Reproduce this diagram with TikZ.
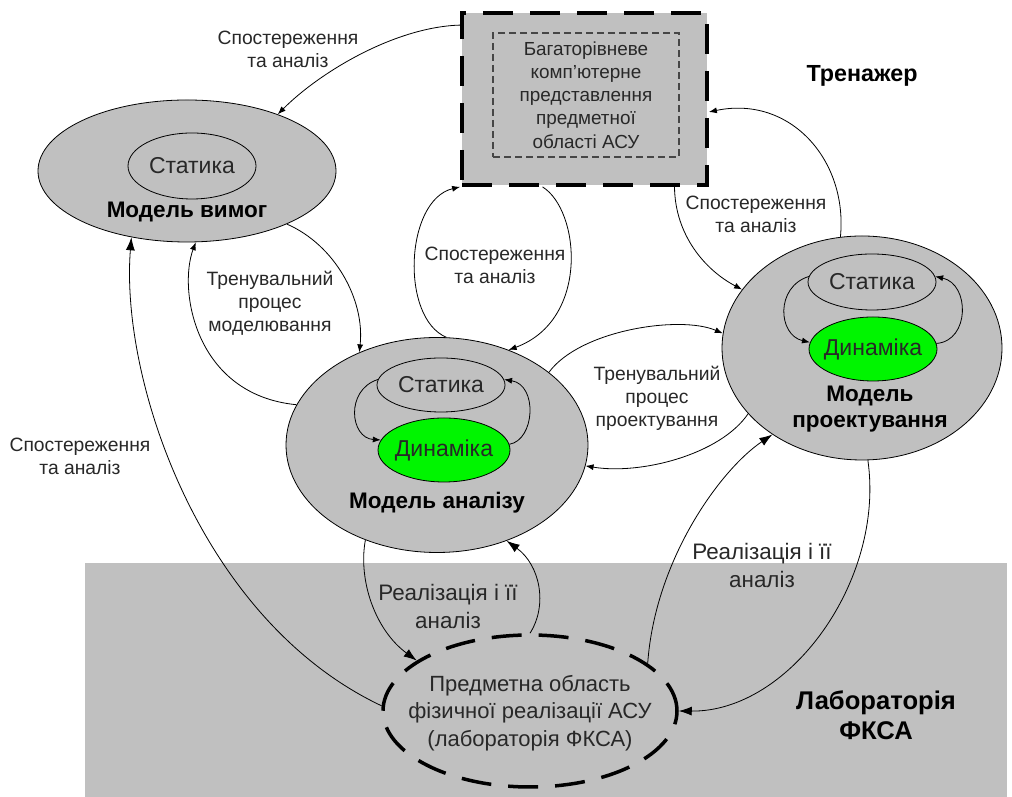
\documentclass[tikz,border=0pt]{standalone}
\usepackage{fontspec}
\setmainfont{Liberation Sans}
\usetikzlibrary{shapes.geometric,arrows.meta}
\definecolor{gr}{RGB}{192,192,192}
\definecolor{txt}{RGB}{40,40,40}
\definecolor{dyn}{RGB}{0,245,0}
\definecolor{dashgr}{RGB}{70,70,70}
\tikzset{
  conn/.style={draw=black, line width=0.8pt, -{Latex[length=8pt,width=6pt]}},
  connbig/.style={draw=black, line width=0.8pt, -{Latex[length=13pt,width=9pt]}},
  model/.style={ellipse, draw=black, fill=gr, line width=0.8pt, inner sep=0pt},
  intext/.style={text=txt, inner sep=0pt, font=\fontsize{23}{26}\selectfont},
  statics/.style={ellipse, draw=black, line width=0.8pt, inner sep=0pt,
    label={[intext]center:Статика}},
  dynamics/.style={ellipse, draw=black, fill=dyn, line width=0.8pt, inner sep=0pt,
    label={[intext]center:Динаміка}},
  lbl/.style={align=center, text=txt, inner sep=0pt, font=\fontsize{19.3}{23}\selectfont},
  rlbl/.style={lbl, font=\fontsize{22.4}{28}\selectfont},
  title/.style={align=center, text=black, inner sep=0pt, font=\bfseries\fontsize{22.5}{26}\selectfont},
  bigtitle/.style={title, font=\bfseries\fontsize{25.6}{30}\selectfont},
}
\begin{document}
\begin{tikzpicture}[x=1pt,y=1pt]
\useasboundingbox (0,0) rectangle (1012,797);
\fill[white] (0,0) rectangle (1012,797);

% laboratory zone
\node[fill=gr, draw=none, minimum width=922pt, minimum height=234pt, anchor=south west, inner sep=0pt] (labzone) at (85,0) {};

% simulator: multi-level computer representation
\node[draw=black, fill=gr, line width=3.8pt, dash pattern=on 30pt off 17pt,
      minimum width=245pt, minimum height=172pt, inner sep=0pt] (tren) at (584.5,698) {};
\node[draw=dashgr, line width=1.1pt, dash pattern=on 7pt off 4pt, align=center, text=txt,
      minimum width=186pt, minimum height=124pt, inner sep=0pt,
      font=\fontsize{18.9}{23.2}\selectfont] (repr) at (586,702)
      {Багаторівневе\\комп'ютерне\\представлення\\предметної\\області АСУ};
\node[title, font=\bfseries\fontsize{23.3}{26}\selectfont] (trenname) at (862,721) {Тренажер};

% requirements model
\node[model, minimum width=298pt, minimum height=142pt] (vymog) at (187,626) {};
\node[statics, minimum width=128pt, minimum height=66pt] (vst) at (192,631) {};
\node[title] (vymogname) at (187,585) {Модель вимог};

% analysis model
\node[model, minimum width=302pt, minimum height=215pt] (analiz) at (437,352) {};
\node[statics, minimum width=128pt, minimum height=54pt] (ast) at (441,412) {};
\node[dynamics, minimum width=132pt, minimum height=64pt] (adyn) at (444,347) {};
\node[title] (analizname) at (437,294) {Модель аналізу};

% design model
\node[model, minimum width=280pt, minimum height=224pt] (proekt) at (862,449) {};
\node[statics, minimum width=128pt, minimum height=56pt] (pst) at (872,515) {};
\node[dynamics, minimum width=128pt, minimum height=64pt] (pdyn) at (873,448) {};
\node[title] (proektname) at (870,388) {Модель\\проектування};

% physical implementation domain
\node[ellipse, draw=black, line width=3.5pt, dash pattern=on 30pt off 17pt,
      minimum width=294pt, minimum height=152pt, inner sep=0pt] (lab) at (530,86) {};
\node[align=center, text=txt, inner sep=0pt, font=\fontsize{22}{27.5}\selectfont]
      (labtext) at (530,84) {Предметна область\\фізичної реалізації АСУ\\(лабораторія ФКСА)};
\node[bigtitle] (labname) at (876,82) {Лабораторія\\ФКСА};

% connector labels
\node[lbl] (l1) at (288,748) {Спостереження\\та аналіз};
\node[lbl] (l2) at (270,494) {Тренувальний\\процес\\моделювання};
\node[lbl] (l3) at (495,532) {Спостереження\\та аналіз};
\node[lbl] (l4) at (756,583) {Спостереження\\та аналіз};
\node[lbl] (l5) at (657,399) {Тренувальний\\процес\\проектування};
\node[rlbl] (l6) at (448,191) {Реалізація і її\\аналіз};
\node[rlbl] (l7) at (762,232) {Реалізація і її\\аналіз};
\node[lbl] (l8) at (80,341) {Спостереження\\та аналіз};

% observation and analysis
\draw[conn] ([yshift=-14pt]tren.north west) .. controls (395,770) and (320,725) .. (vymog.32);
\draw[conn] (analiz.85) .. controls (400,479) and (405,597) .. (tren.south west);
\draw[conn] ([xshift=-42pt]tren.south) .. controls (580,587) and (590,477) .. (analiz.53);
\draw[conn] (proekt.101) .. controls (848,637) and (790,702) .. ([yshift=-13pt]tren.east);
\draw[conn] ([xshift=90pt]tren.south) .. controls (675,562) and (705,527) .. (proekt.154);
\draw[connbig] (lab.178) .. controls (200,177) and (120,417) .. (vymog.230);

% modelling training process
\draw[conn] (vymog.-28) .. controls (335,552) and (365,497) .. (analiz.130);
\draw[conn] (analiz.164) .. controls (195,402) and (178,507) .. (vymog.-83);

% design training process
\draw[conn] (analiz.33) .. controls (580,467) and (680,482) .. (proekt.174);
\draw[conn] (proekt.210) .. controls (720,342) and (640,322) .. (analiz.-8);

% implementation and its analysis
\draw[connbig] (analiz.-127) .. controls (358,217) and (375,167) .. (lab.156);
\draw[connbig] (lab.90) .. controls (548,192) and (540,232) .. (analiz.-54);
\draw[connbig] (lab.22) .. controls (655,237) and (720,327) .. (proekt.224);
\draw[connbig] (proekt.-87) .. controls (885,217) and (790,85) .. (lab.0);

% statics <-> dynamics cycles
\draw[conn] (ast.175) .. controls (345,407) and (350,359) .. (adyn.171);
\draw[conn] (adyn.5) .. controls (535,357) and (538,412) .. (ast.5);
\draw[conn] (pst.175) .. controls (775,510) and (778,462) .. (pdyn.174);
\draw[conn] (pdyn.5) .. controls (970,456) and (970,513) .. (pst.5);
\end{tikzpicture}
\end{document}
